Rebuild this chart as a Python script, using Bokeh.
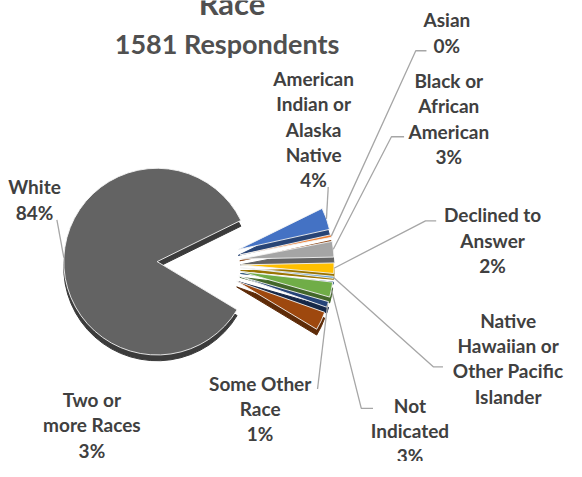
import numpy as np
from bokeh.plotting import figure
from bokeh.models import Range1d
from bokeh.core.properties import value
from bokeh.embed import file_html
from bokeh.resources import INLINE

# ---------------- data ----------------
categories = [
    "American Indian or Alaska Native",
    "Asian",
    "Black or African American",
    "Declined to Answer",
    "Native Hawaiian or Other Pacific Islander",
    "Not Indicated",
    "Some Other Race",
    "Two or more Races",
    "White",
]
percent = [3.8, 0.45, 2.7, 1.8, 0.35, 2.6, 1.0, 3.2, 84.1]
colors = ["#4472C4", "#ED7D31", "#A5A5A5", "#FFC000", "#5B9BD5",
          "#70AD47", "#264478", "#9E480E", "#636363"]
label_names = [
    "American\nIndian or\nAlaska\nNative",
    "Asian",
    "Black or\nAfrican\nAmerican",
    "Declined to\nAnswer",
    "Native\nHawaiian or\nOther Pacific\nIslander",
    "Not\nIndicated",
    "Some Other\nRace",
    "Two or\nmore Races",
    "White",
]
show_pct = [True, True, True, True, False, True, True, True, True]
title = "Race"
subtitle = "1581 Respondents"

# ---------------- layout (reference pixel coords, 582 x 477) ----------------
def Y(y):
    return 477 - y

CX, CY = 204, 272
R = 96
EXPLODE = 43
START = 26.2
DEPTH = 6

label_pos = [(322, 133), (459, 33), (461, 122), (506, 248), (522, 370),
             (421, 445), (267, 422), (94, 439), (35, 206)]
leader_via = [
    [(337, 193)],
    [(427, 52), (438, 52)],
    [(402, 141), (415, 141)],
    [(437, 228), (448, 228)],
    [(445, 379), (455, 379)],
    [(371, 422), (383, 422)],
    [(326, 402)],
    None,
    [(58, 227)],
]

def darker(hexc, f=0.6):
    h = hexc.lstrip("#")
    r, g, b = (int(h[i:i + 2], 16) for i in (0, 2, 4))
    return "#%02x%02x%02x" % (int(r * f), int(g * f), int(b * f))

p = figure(width=566, height=461, x_range=Range1d(0, 582), y_range=Range1d(0, 477),
           output_backend="svg", toolbar_location=None, min_border=0)
p.axis.visible = False
p.grid.visible = False
p.outline_line_color = None
p.background_fill_color = "white"

xs, ys, lo, hi, cols, sides = [], [], [], [], [], []
lx, ly = [], []
cum = 0.0
for i, v in enumerate(percent):
    a_hi = START - cum * 3.6
    a_lo = a_hi - v * 3.6
    cum += v
    mid = np.radians((a_hi + a_lo) / 2)
    cx = CX + EXPLODE * np.cos(mid)
    cy = Y(CY) + EXPLODE * np.sin(mid)
    xs.append(cx)
    ys.append(cy)
    lo.append(np.radians(a_lo))
    hi.append(np.radians(a_hi))
    cols.append(colors[i])
    sides.append(darker(colors[i]))
    if leader_via[i] is not None:
        sx = cx + R * np.cos(mid)
        sy = cy + R * np.sin(mid)
        lx.append([sx] + [q[0] for q in leader_via[i]])
        ly.append([sy] + [Y(q[1]) for q in leader_via[i]])

# side faces (3D depth)
p.wedge(x=xs, y=[y - DEPTH for y in ys], radius=R, start_angle=lo, end_angle=hi,
        direction="anticlock", fill_color=sides, line_color=sides, line_width=1)
# top faces
p.wedge(x=xs, y=ys, radius=R, start_angle=lo, end_angle=hi,
        direction="anticlock", fill_color=cols, line_color="#f4f4f4", line_width=0.9)

# leader lines
p.multi_line(lx, ly, line_color="#A6A6A6", line_width=1.3)

# labels
texts = []
for name, v, sp in zip(label_names, percent, show_pct):
    texts.append(name + ("\n%d%%" % round(v) if sp else ""))
p.text(x=[q[0] for q in label_pos], y=[Y(q[1]) for q in label_pos], text=texts,
       text_font=value("Lato"), text_font_style="bold", text_font_size="19px",
       text_color="#404040", text_align="center", text_baseline="middle",
       text_line_height=1.1)

# titles
p.text(x=[238], y=[Y(3)], text=[title], text_font=value("Lato"),
       text_font_style="bold", text_font_size="31px", text_color="#505050",
       text_align="center", text_baseline="alphabetic")
p.text(x=[233], y=[Y(45)], text=[subtitle], text_font=value("Lato"),
       text_font_style="bold", text_font_size="27px", text_color="#505050",
       text_align="center", text_baseline="middle")

open("out.html", "w").write(file_html(p, INLINE))
